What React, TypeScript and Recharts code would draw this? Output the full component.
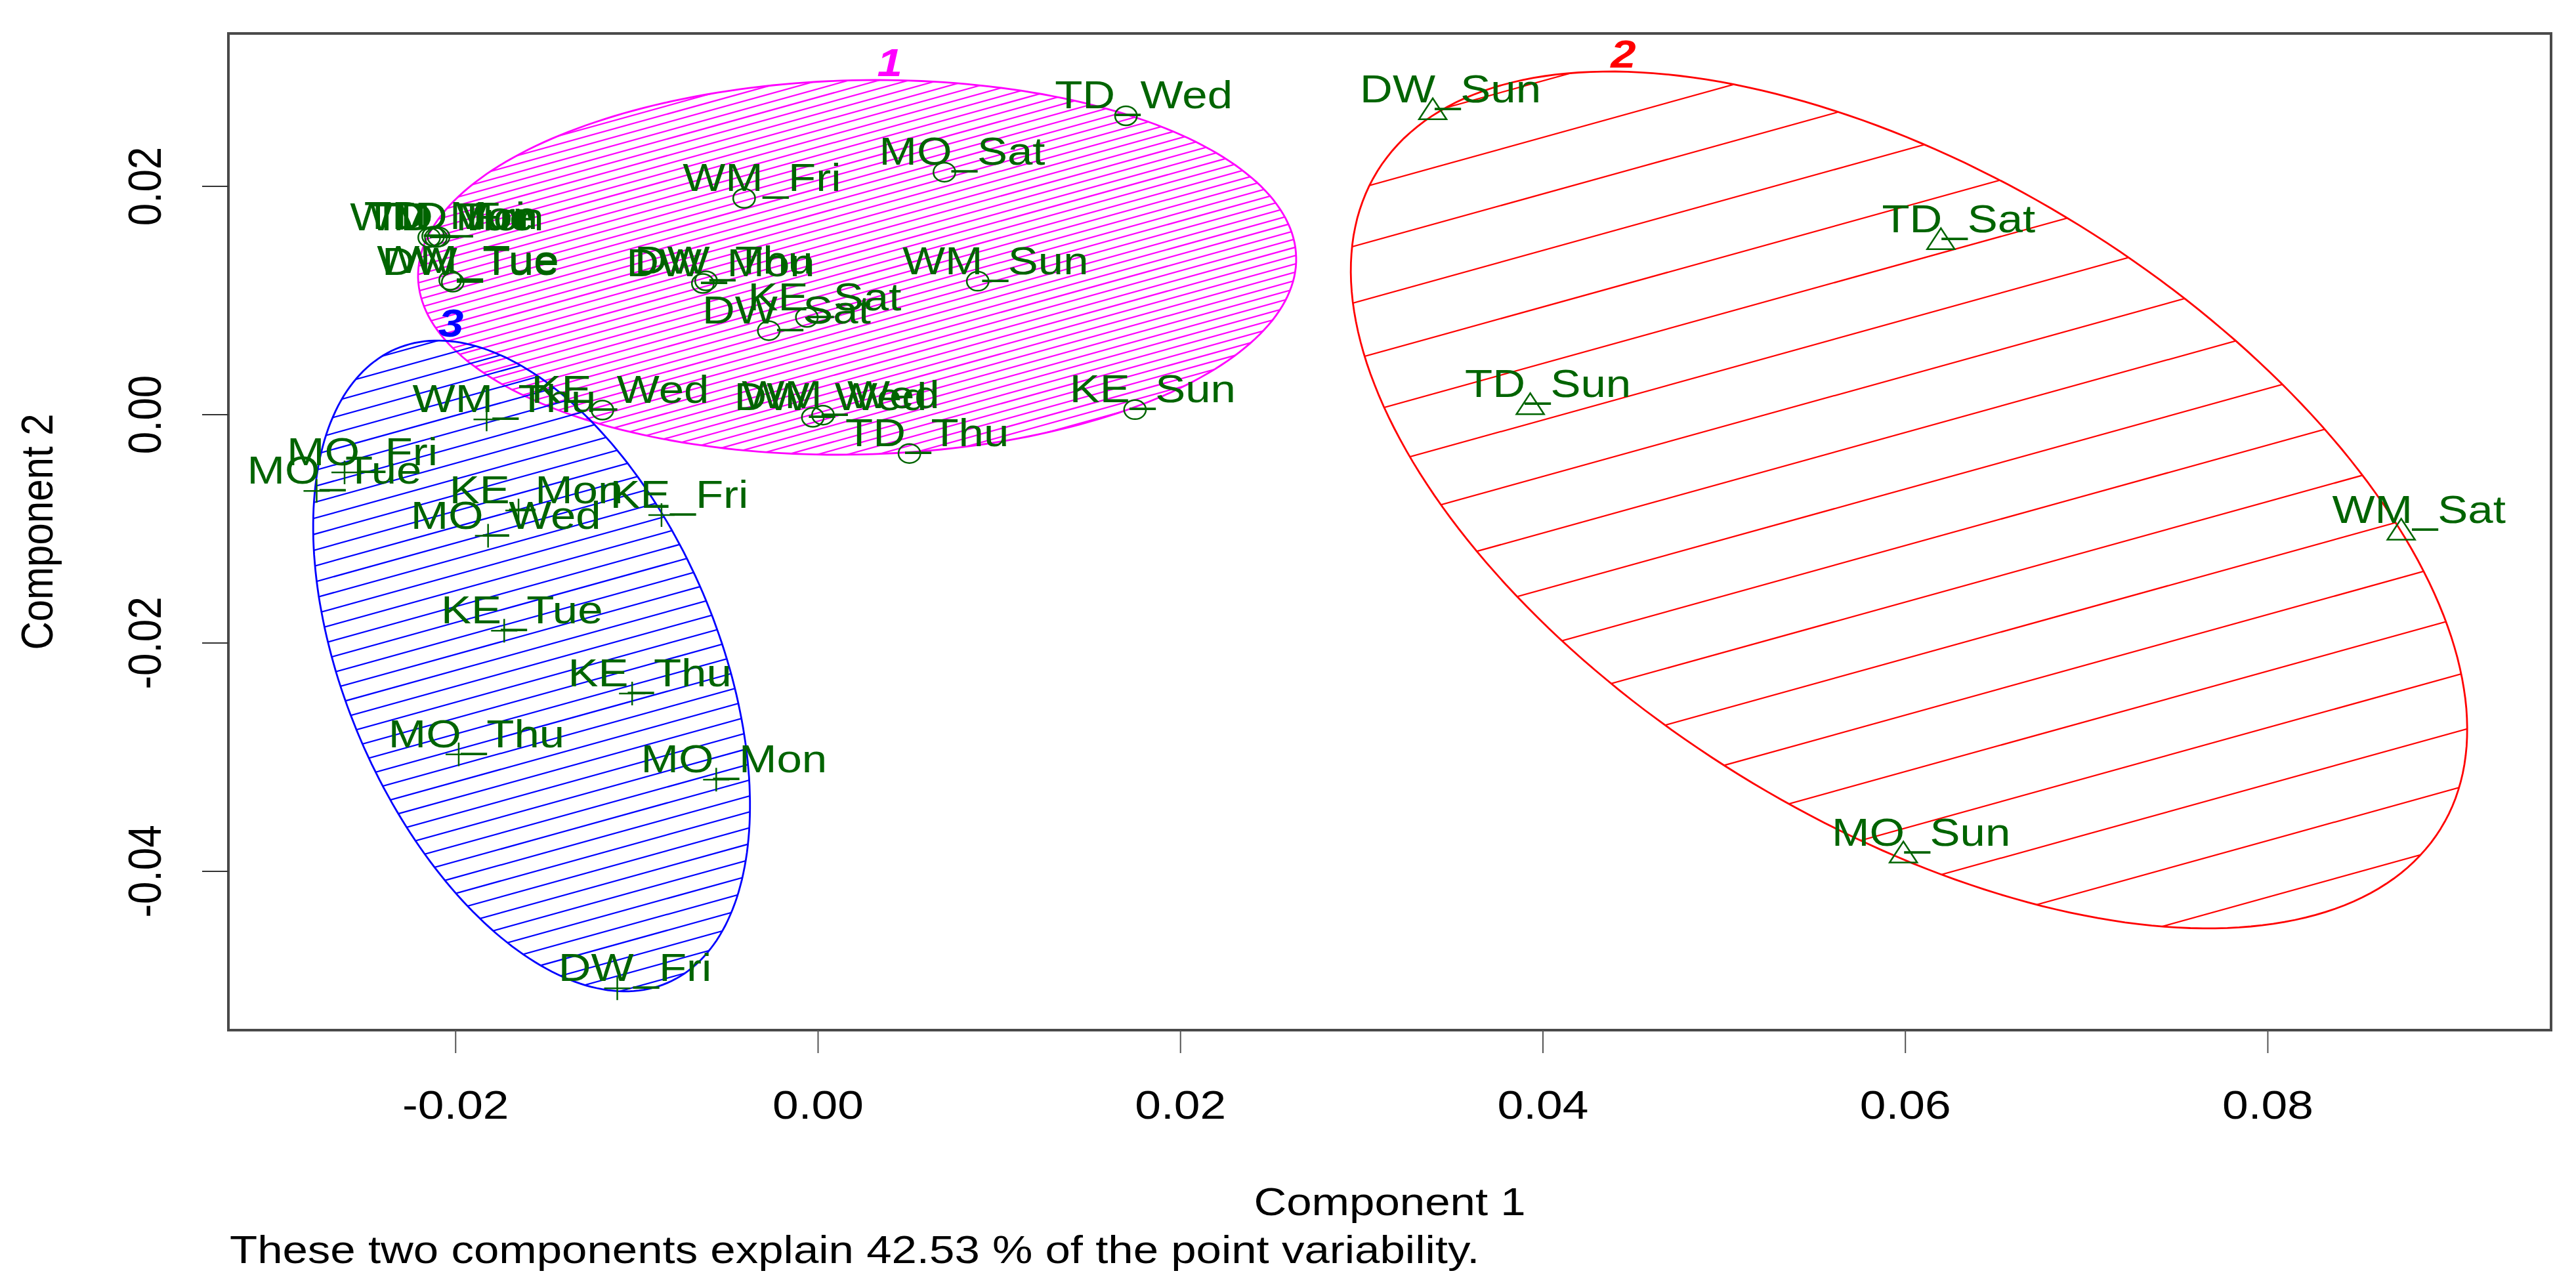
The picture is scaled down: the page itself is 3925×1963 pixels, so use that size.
import React from "react";
import * as Recharts from "recharts";

const { ScatterChart, Scatter, XAxis, YAxis } = Recharts;

// axes
const xDomain = [-0.03254, 0.09563];
const yDomain = [-0.05391, 0.03339];
const xTicks = [-0.02, 0, 0.02, 0.04, 0.06, 0.08];
const yTicks = [-0.04, -0.02, 0, 0.02];

// cluster 1 (circles)
const cluster1Names = [
  "TD_Wed", "MO_Sat", "WM_Fri", "WM_Sun", "DW_Mon", "DW_Thu", "DW_Sat", "KE_Sat",
  "DW_Wed", "WM_Wed", "TD_Thu", "KE_Sun", "KE_Wed", "DW_Tue", "WM_Tue",
  "TD_Mon", "TD_Tue", "TD_Fri", "WM_Mon",
];
const cluster1X = [
  0.01699, 0.00697, -0.00408, 0.00881, -0.00636, -0.00618, -0.00272, -0.00062,
  -0.00029, 0.00027, 0.00504, 0.01749, -0.0119, -0.02016, -0.0203,
  -0.02124, -0.02109, -0.02094, -0.02146,
];
const cluster1Y = [
  0.02618, 0.02124, 0.01895, 0.01169, 0.01149, 0.01172, 0.00736, 0.00852,
  -0.00023, -0.00004, -0.0034, 0.00044, 0.0004, 0.01161, 0.01178,
  0.01563, 0.01552, 0.01557, 0.01552,
];

// cluster 2 (triangles)
const cluster2Names = ["DW_Sun", "TD_Sat", "TD_Sun", "WM_Sat", "MO_Sun"];
const cluster2X = [0.03392, 0.06196, 0.0393, 0.08736, 0.05989];
const cluster2Y = [0.02674, 0.01536, 0.0009, -0.01009, -0.03837];

// cluster 3 (plus signs)
const cluster3Names = [
  "WM_Thu", "MO_Fri", "MO_Tue", "KE_Mon", "KE_Fri", "MO_Wed",
  "KE_Tue", "KE_Thu", "MO_Thu", "MO_Mon", "DW_Fri",
];
const cluster3X = [
  -0.01829, -0.02613, -0.02767, -0.01653, -0.00864, -0.01821,
  -0.01732, -0.01026, -0.01983, -0.00562, -0.01108,
];
const cluster3Y = [
  -0.00042, -0.00506, -0.00668, -0.00839, -0.00879, -0.01061,
  -0.01892, -0.02443, -0.02976, -0.03197, -0.05025,
];

// spanning ellipses: centre + two conjugate half-axis vectors (data units)
const clusterIds = ["1", "2", "3"];
const ellipseCx = [0.002155, 0.0602, -0.01581];
const ellipseCy = [0.0129, -0.00747, -0.02201];
const ellipseAx = [0.024227, 0.02934, 0.007486];
const ellipseAy = [0.000891, -0.02879, -0.02777];
const ellipseBx = [-0.000239, 0.00938, 0.009446];
const ellipseBy = [0.016385, 0.02407, 0.006414];

const toRows = (names: string[], xs: number[], ys: number[]) =>
  names.map((name, i) => ({ name, x: xs[i], y: ys[i] }));

const cluster1Data = toRows(cluster1Names, cluster1X, cluster1Y);
const cluster2Data = toRows(cluster2Names, cluster2X, cluster2Y);
const cluster3Data = toRows(cluster3Names, cluster3X, cluster3Y);

const W = 3925;
const H = 1963;
const MARGIN = { top: 51, right: 38, bottom: 0, left: 0 };
const Y_AXIS_W = 348;
const X_AXIS_H = 393;
const STRETCH = 1.15;
const FONT = '"Liberation Sans", Arial, Helvetica, sans-serif';
const GREEN = "#006400";
const CLUSTER_COLORS = ["#ff00ff", "#ff0000", "#0000ff"];
const HATCH_GAP = [12.2, 83, 23.4];
const HATCH_ANGLE = (15.5 * Math.PI) / 180;

const FALLBACK_AREA = { x: 348, y: 51, width: 3539, height: 1519 };
const usePlotAreaHook = (Recharts as any).usePlotArea as undefined | (() => any);

function usePlot() {
  const pa = usePlotAreaHook ? usePlotAreaHook() : null;
  const a = pa && pa.width ? pa : FALLBACK_AREA;
  const sx = (v: number) =>
    a.x + ((v - xDomain[0]) / (xDomain[1] - xDomain[0])) * a.width;
  const sy = (v: number) =>
    a.y + ((yDomain[1] - v) / (yDomain[1] - yDomain[0])) * a.height;
  return { a, sx, sy };
}

const SText = ({
  x, y, size, rotate = 0, anchor = "middle", fill = "#000",
  weight = "normal", italic = false, children,
}: any) => (
  <g transform={`translate(${x},${y}) scale(${STRETCH},1)${rotate ? ` rotate(${rotate})` : ""}`}>
    <text
      x={0}
      y={0}
      textAnchor={anchor}
      fontFamily={FONT}
      fontSize={size}
      fill={fill}
      fontWeight={weight}
      fontStyle={italic ? "italic" : "normal"}
    >
      {children}
    </text>
  </g>
);

function ellipsePixels(i: number, sx: any, sy: any) {
  const pts: number[][] = [];
  for (let k = 0; k < 240; k++) {
    const t = (2 * Math.PI * k) / 240;
    const x = ellipseCx[i] + ellipseAx[i] * Math.cos(t) + ellipseBx[i] * Math.sin(t);
    const y = ellipseCy[i] + ellipseAy[i] * Math.cos(t) + ellipseBy[i] * Math.sin(t);
    pts.push([sx(x), sy(y)]);
  }
  return pts;
}

function ClusterLayer() {
  const { a, sx, sy } = usePlot();
  const dx = Math.cos(HATCH_ANGLE);
  const dy = -Math.sin(HATCH_ANGLE);
  const nx = Math.sin(HATCH_ANGLE);
  const ny = Math.cos(HATCH_ANGLE);

  return (
    <g>
      {clusterIds.map((id, i) => {
        const pts = ellipsePixels(i, sx, sy);
        const d = "M" + pts.map((p) => `${p[0].toFixed(1)},${p[1].toFixed(1)}`).join("L") + "Z";
        const proj = pts.map((p) => p[0] * nx + p[1] * ny);
        const lo = Math.min(...proj);
        const hi = Math.max(...proj);
        const gap = HATCH_GAP[i];
        const lines = [];
        for (let s = Math.ceil(lo / gap) * gap; s <= hi; s += gap) {
          const px = nx * s;
          const py = ny * s;
          lines.push(
            <line
              key={s}
              x1={px - dx * 6000}
              y1={py - dy * 6000}
              x2={px + dx * 6000}
              y2={py + dy * 6000}
              stroke={CLUSTER_COLORS[i]}
              strokeWidth={2.2}
            />
          );
        }
        // top of ellipse for the cluster number
        const tTop = Math.atan2(ellipseBy[i], ellipseAy[i]);
        const topX = sx(ellipseCx[i] + ellipseAx[i] * Math.cos(tTop) + ellipseBx[i] * Math.sin(tTop));
        const topY = sy(ellipseCy[i] + ellipseAy[i] * Math.cos(tTop) + ellipseBy[i] * Math.sin(tTop));
        return (
          <g key={id}>
            <defs>
              <clipPath id={`clus-clip-${i}`}>
                <path d={d} />
              </clipPath>
            </defs>
            <g clipPath={`url(#clus-clip-${i})`}>{lines}</g>
            <path d={d} fill="none" stroke={CLUSTER_COLORS[i]} strokeWidth={2.8} />
            <SText x={topX + 20} y={topY - 6} size={60} fill={CLUSTER_COLORS[i]} weight="bold" italic>
              {id}
            </SText>
          </g>
        );
      })}
      <rect x={a.x} y={a.y} width={a.width} height={a.height} fill="none" stroke="#4a4a4a" strokeWidth={4} />
      <SText x={a.x + a.width / 2} y={a.y + a.height + 282} size={60}>
        Component 1
      </SText>
      <SText x={a.x + 2} y={a.y + a.height + 355} size={60} anchor="start">
        These two components explain 42.53 % of the point variability.
      </SText>
      <SText x={80} y={a.y + a.height / 2} size={60} rotate={-90}>
        Component 2
      </SText>
    </g>
  );
}

const XTick = (props: any) => (
  <SText x={props.x} y={props.y + 100} size={62}>
    {Number(props.payload.value).toFixed(2)}
  </SText>
);

const YTick = (props: any) => (
  <SText x={props.x - 63} y={props.y} size={62} rotate={-90}>
    {Number(props.payload.value).toFixed(2)}
  </SText>
);

const pointShape = (kind: number) => (props: any) => {
  const { cx, cy, payload } = props;
  if (cx == null || cy == null) return <g />;
  let sym;
  if (kind === 0) {
    sym = <ellipse cx={cx} cy={cy} rx={14.5 * STRETCH} ry={14.5} fill="none" stroke={GREEN} strokeWidth={2.5} />;
  } else if (kind === 1) {
    sym = (
      <polygon
        points={`${cx - 21},${cy + 15} ${cx + 21},${cy + 15} ${cx},${cy - 17}`}
        fill="none"
        stroke={GREEN}
        strokeWidth={2.5}
      />
    );
  } else {
    sym = (
      <path d={`M${cx - 20},${cy}H${cx + 20}M${cx},${cy - 18}V${cy + 18}`} stroke={GREEN} strokeWidth={2.5} />
    );
  }
  return (
    <g>
      {sym}
      <SText x={cx + 27} y={cy - 11} size={60} fill={GREEN}>
        {payload.name}
      </SText>
    </g>
  );
};

export default function App() {
  return (
    <div style={{ position: "absolute", left: 0, top: 0, width: W, height: H, background: "#fff" }}>
      <ScatterChart width={W} height={H} margin={MARGIN}>
        <XAxis
          type="number"
          dataKey="x"
          domain={xDomain}
          ticks={xTicks}
          allowDataOverflow
          interval={0}
          axisLine={false}
          tickLine={{ stroke: "#555", strokeWidth: 2 }}
          tickSize={35}
          tickMargin={0}
          height={X_AXIS_H}
          tick={XTick}
        />
        <YAxis
          type="number"
          dataKey="y"
          domain={yDomain}
          ticks={yTicks}
          allowDataOverflow
          interval={0}
          axisLine={false}
          tickLine={{ stroke: "#333", strokeWidth: 2 }}
          tickSize={40}
          tickMargin={0}
          width={Y_AXIS_W}
          tick={YTick}
        />
        <ClusterLayer />
        <Scatter data={cluster1Data} shape={pointShape(0)} isAnimationActive={false} />
        <Scatter data={cluster2Data} shape={pointShape(1)} isAnimationActive={false} />
        <Scatter data={cluster3Data} shape={pointShape(2)} isAnimationActive={false} />
      </ScatterChart>
    </div>
  );
}
